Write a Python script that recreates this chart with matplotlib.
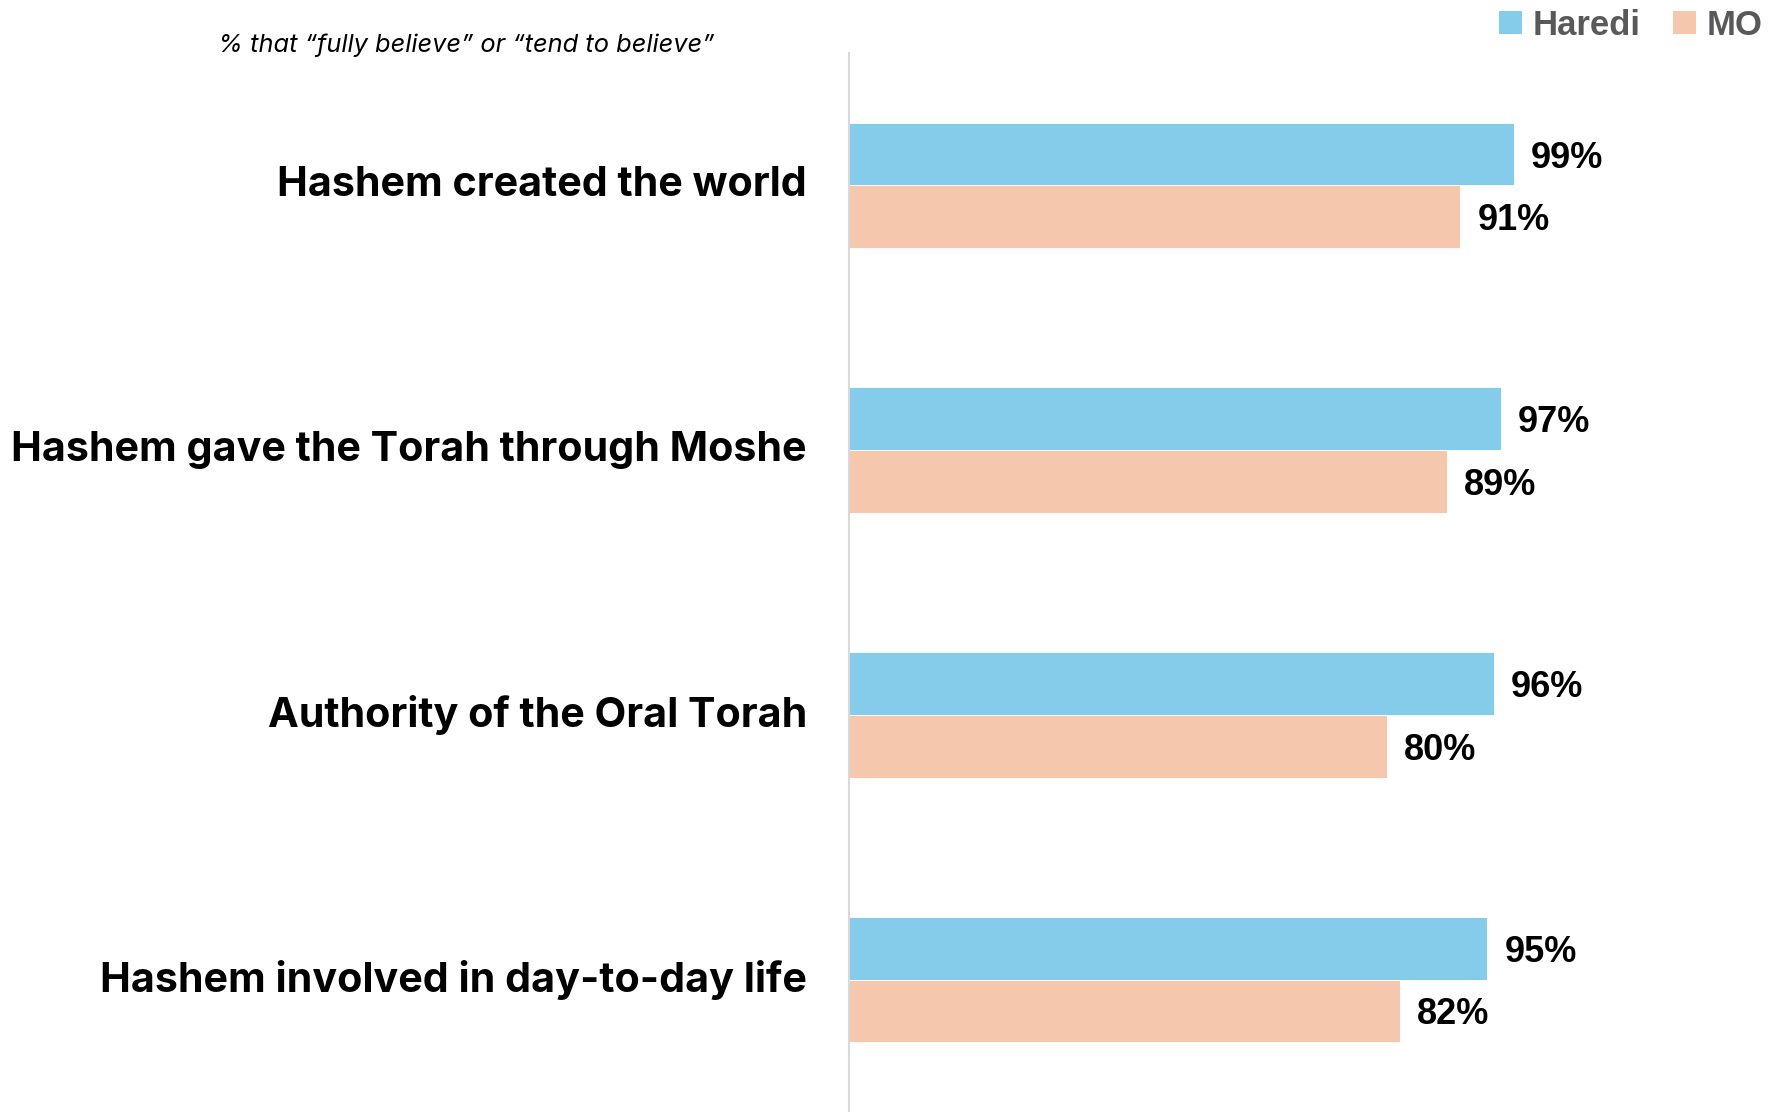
#!/usr/bin/env python3
"""Belief statements: Haredi vs MO, horizontal grouped bars."""

import matplotlib as mpl
import matplotlib.pyplot as plt
import numpy as np
from matplotlib.patches import Patch

statements = [
    "Hashem created the world",
    "Hashem gave the Torah through Moshe",
    "Authority of the Oral Torah",
    "Hashem involved in day-to-day life",
]
haredi = [99, 97, 96, 95]
mo = [91, 89, 80, 82]
series_names = ["Haredi", "MO"]
subtitle = "% that \u201cfully believe\u201d or \u201ctend to believe\u201d"

C_HAREDI = "#85CBEA"
C_MO = "#F5C7AD"

W, H, DPI = 1783, 1112, 100
fig = plt.figure(figsize=(W / DPI, H / DPI), dpi=DPI)
ax = fig.add_axes([849 / W, 0.0, 1 - 849 / W, 1 - 53 / H])

y = np.arange(len(statements))
bh = 0.237
ax.barh(y - bh / 2, haredi, height=bh, color=C_HAREDI,
        edgecolor="white", linewidth=0.6)
ax.barh(y + bh / 2, mo, height=bh, color=C_MO,
        edgecolor="white", linewidth=0.6)

ax.set_xlim(0, 139)
ax.set_ylim(len(statements) - 0.5, -0.5)

lab_kw = dict(fontsize=26, fontweight="bold", family="Liberation Sans",
              va="center_baseline", ha="left", color="black")
for yi, h, m in zip(y, haredi, mo):
    ax.annotate(f"{h}%", (h, yi - bh / 2), xytext=(17, 0),
                textcoords="offset pixels", **lab_kw)
    ax.annotate(f"{m}%", (m, yi + bh / 2), xytext=(17, 0),
                textcoords="offset pixels", **lab_kw)

# category labels to the left of the axis line
for yi, s in zip(y, statements):
    ax.annotate(s, (0, yi), xytext=(-42, 0), textcoords="offset pixels",
                fontsize=29.7, fontweight="bold", family="Inter",
                va="center", ha="right", color="black",
                annotation_clip=False)

for side in ("top", "right", "bottom"):
    ax.spines[side].set_visible(False)
ax.spines["left"].set_color("#D9D9D9")
ax.spines["left"].set_linewidth(1.5)
ax.set_xticks([])
ax.set_yticks([])

fig.text(466 / W, 1 - 45 / H, subtitle, fontsize=18.3, style="italic",
         family="Inter", ha="center", va="center", color="black")

handles = [Patch(facecolor=C_HAREDI, label=series_names[0]),
           Patch(facecolor=C_MO, label=series_names[1])]
leg = fig.legend(handles=handles, loc="upper right", ncol=2, frameon=False,
                 bbox_to_anchor=(1.006, 1.02), handlelength=0.65,
                 handleheight=0.65, handletextpad=0.3, columnspacing=0.95,
                 prop=dict(family="Liberation Sans", weight="bold", size=25))
for t in leg.get_texts():
    t.set_color("#595959")

fig.savefig("out.png", dpi=DPI, facecolor="white")
